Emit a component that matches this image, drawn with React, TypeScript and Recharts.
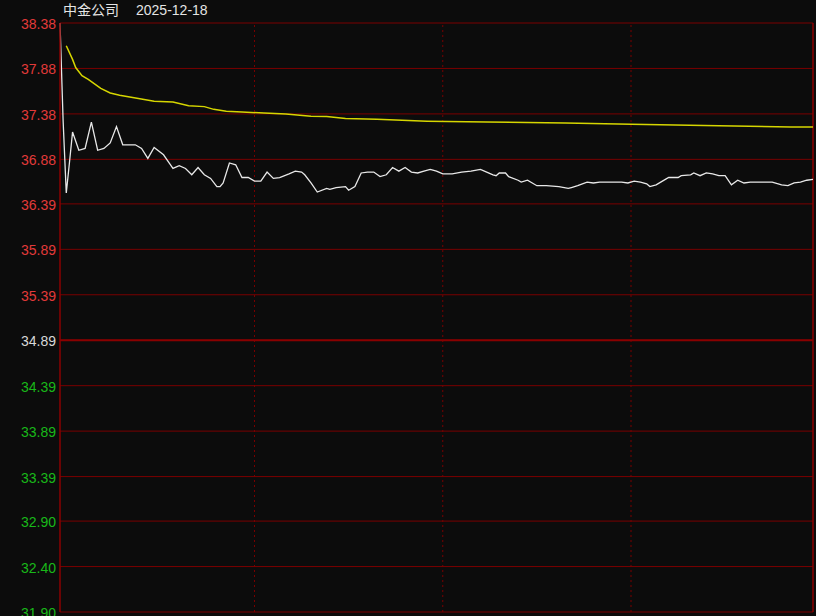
import { CartesianGrid, Line, LineChart, ReferenceLine, XAxis, YAxis } from "recharts";

const STOCK_NAME = "中金公司";
const TRADE_DATE = "2025-12-18";
const PREV_CLOSE = 34.89;

const Y_TICKS = [38.38, 37.88, 37.38, 36.88, 36.39, 35.89, 35.39, 34.89, 34.39, 33.89, 33.39, 32.9, 32.4, 31.9];
const HOUR_MARKS = [62, 122, 182];

// minute index / last price (white line)
const PRICE_T = [
  0, 1, 2, 3, 4, 6, 8, 10, 12, 14, 16, 18, 20, 24, 26, 28, 30, 33, 35, 36, 38, 40, 42, 44, 46, 48, 50, 51, 52, 54,
  56, 58, 60, 62, 64, 66, 68, 70, 73, 75, 77, 78, 80, 82, 85, 86, 88, 91, 92, 94, 96, 98, 100, 102, 104, 106, 108,
  110, 112, 114, 116, 118, 120, 122, 125, 128, 131, 134, 136, 138, 139, 140, 142, 143, 146, 147, 149, 152, 155, 159,
  162, 163, 165, 168, 170, 172, 179, 181, 183, 185, 187, 188, 190, 192, 194, 197, 198, 201, 202, 204, 206, 208, 210,
  212, 214, 216, 218, 220, 227, 230, 232, 234, 236, 238, 240,
];
const PRICE = [
  38.38, 37.3, 36.51, 36.84, 37.18, 36.98, 37.0, 37.29, 36.98, 37.0, 37.06, 37.24, 37.04, 37.04, 37.0, 36.89, 37.01,
  36.93, 36.83, 36.78, 36.81, 36.78, 36.71, 36.79, 36.71, 36.67, 36.58, 36.58, 36.62, 36.84, 36.82, 36.68, 36.68,
  36.64, 36.64, 36.74, 36.67, 36.68, 36.72, 36.75, 36.74, 36.71, 36.62, 36.52, 36.56, 36.55, 36.57, 36.58, 36.54,
  36.58, 36.73, 36.74, 36.74, 36.69, 36.71, 36.79, 36.75, 36.79, 36.74, 36.73, 36.75, 36.77, 36.75, 36.72, 36.72,
  36.74, 36.75, 36.77, 36.74, 36.71, 36.7, 36.73, 36.73, 36.69, 36.65, 36.63, 36.65, 36.59, 36.59, 36.58, 36.56,
  36.57, 36.59, 36.63, 36.62, 36.63, 36.63, 36.62, 36.64, 36.63, 36.61, 36.58, 36.6, 36.64, 36.68, 36.68, 36.7,
  36.71, 36.73, 36.7, 36.73, 36.72, 36.7, 36.7, 36.6, 36.65, 36.62, 36.63, 36.63, 36.6, 36.59, 36.62, 36.63, 36.65,
  36.66,
];

// average price (yellow line)
const AVG_T = [2, 4, 5, 7, 9, 11, 13, 16, 19, 25, 30, 36, 41, 46, 49, 53, 58, 65, 72, 80, 85, 91, 101, 117, 136, 161, 182, 210, 233, 240];
const AVG = [
  38.13, 37.98, 37.89, 37.8, 37.76, 37.71, 37.66, 37.61, 37.585, 37.55, 37.52, 37.51, 37.47, 37.46, 37.43, 37.41,
  37.4, 37.39, 37.38, 37.355, 37.35, 37.33, 37.32, 37.3, 37.29, 37.28, 37.265, 37.25, 37.236, 37.235,
];

const priceData = PRICE_T.map((t, i) => ({ t, v: PRICE[i] }));
const avgData = AVG_T.map((t, i) => ({ t, v: AVG[i] }));

const GRID = "#7a0000";
const FONT = '"Liberation Sans", Arial, "Noto Sans CJK SC", sans-serif';

function tickColor(v: number) {
  if (v > PREV_CLOSE + 0.001) return "#e23a3a";
  if (v < PREV_CLOSE - 0.001) return "#19b819";
  return "#d8d8d8";
}

function PriceTick({ y, payload }: any) {
  const v = payload.value as number;
  return (
    <text x={56} y={y} dy={6} textAnchor="end" fill={tickColor(v)} fontSize={14} fontFamily={FONT}>
      {v.toFixed(2)}
    </text>
  );
}

export default function App() {
  return (
    <div style={{ position: "relative", width: 816, height: 616, overflow: "hidden", background: "#0c0c0c" }}>
      <style>{"body{margin:0;background:#0c0c0c}"}</style>
      <div
        style={{
          position: "absolute",
          left: 63,
          top: 1,
          color: "#e4e4e4",
          fontSize: 14,
          fontFamily: FONT,
          lineHeight: "18px",
          whiteSpace: "nowrap",
          zIndex: 2,
        }}
      >
        {STOCK_NAME}
        <span style={{ marginLeft: 17 }}>{TRADE_DATE}</span>
      </div>
      <LineChart width={816} height={616} margin={{ top: 23, right: 3, bottom: 4, left: 0 }}>
        <CartesianGrid vertical={false} stroke={GRID} strokeWidth={1} />
        <XAxis dataKey="t" type="number" domain={[0, 240]} hide allowDuplicatedCategory={false} />
        <YAxis
          type="number"
          domain={[31.9, 38.38]}
          ticks={Y_TICKS}
          interval={0}
          width={60}
          tickLine={false}
          axisLine={{ stroke: "#8a0000", strokeWidth: 1.5 }}
          tick={<PriceTick />}
        />
        {HOUR_MARKS.map((m) => (
          <ReferenceLine key={m} x={m} stroke={GRID} strokeDasharray="2 3" />
        ))}
        <ReferenceLine x={240} stroke="#8a0000" strokeWidth={1.5} />
        <ReferenceLine y={PREV_CLOSE} stroke="#8a0000" strokeWidth={2} />
        <Line
          data={avgData}
          dataKey="v"
          type="linear"
          stroke="#d6d600"
          strokeWidth={1.5}
          dot={false}
          isAnimationActive={false}
        />
        <Line
          data={priceData}
          dataKey="v"
          type="linear"
          stroke="#e8e8e8"
          strokeWidth={1.3}
          dot={false}
          isAnimationActive={false}
        />
      </LineChart>
    </div>
  );
}
